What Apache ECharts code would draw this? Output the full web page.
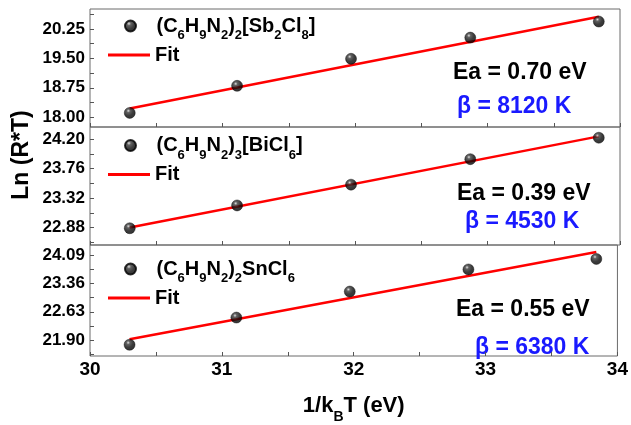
<!DOCTYPE html>
<html>
<head>
<meta charset="utf-8">
<script src="https://cdn.jsdelivr.net/npm/echarts@6/dist/echarts.min.js"></script>
<style>html,body{margin:0;padding:0;background:#fff}#c{width:631px;height:425px}</style>
</head>
<body>
<div id="c"></div>
<script>
// ---- data ----
const xVals = [30.30, 31.11, 31.97, 32.87, 33.84];
const sbVals = [18.11, 18.80, 19.49, 20.03, 20.44];
const biVals = [22.87, 23.21, 23.52, 23.90, 24.22];
const snVals = [21.78, 22.48, 23.15, 23.72, 23.99];
const fitX = [30.30, 33.84];
const sbFit = [18.22, 20.56];
const biFit = [22.88, 24.24];
const snFit = [21.92, 24.17];
const sbTicks = [18.00, 18.75, 19.50, 20.25];
const biTicks = [22.88, 23.32, 23.76, 24.20];
const snTicks = [21.90, 22.63, 23.36, 24.09];
const xTicks = [30, 31, 32, 33, 34];
const names = ['(C{s|6}H{s|9}N{s|2}){s|2}[Sb{s|2}Cl{s|8}]', '(C{s|6}H{s|9}N{s|2}){s|3}[BiCl{s|6}]', '(C{s|6}H{s|9}N{s|2}){s|2}SnCl{s|6}'];
const eaTexts = ['Ea = 0.70 eV', 'Ea = 0.39 eV', 'Ea = 0.55 eV'];
const betaTexts = ['\u03b2 = 8120 K', '\u03b2 = 4530 K', '\u03b2 = 6380 K'];

const FONT = 'Arial, "Liberation Sans", sans-serif';
const ranges = [[17.75, 20.76], [22.62, 24.38], [21.49, 24.35]];
const tickSets = [sbTicks, biTicks, snTicks];
const vals = [sbVals, biVals, snVals];
const fits = [sbFit, biFit, snFit];
const tops = [9, 127, 245];
const H = 118;

function minorSet(t, r) {
  const step = t[1] - t[0];
  const out = t.slice();
  for (let i = -1; i < t.length; i++) {
    const m = t[0] + (i + 0.5) * step;
    if (m > r[0] && m < r[1]) out.push(+m.toFixed(4));
  }
  return out;
}

const ball = {
  type: 'radial', x: 0.38, y: 0.32, r: 0.7,
  colorStops: [{offset: 0, color: '#d8d8d8'}, {offset: 0.22, color: '#3a3a3a'}, {offset: 0.6, color: '#0a0a0a'}, {offset: 1, color: '#000'}]
};

const grids = [], xAxes = [], yAxes = [], series = [], legends = [], graphics = [];
const legTops = [[26, 55], [145.5, 174.5], [269, 298]];
const eaPos = [[453, 73], [457, 194], [456, 310]];
const betaPos = [[457, 107], [465, 222], [475, 348]];

for (let i = 0; i < 3; i++) {
  grids.push({left: 90, right: 11, top: tops[i], height: H, show: true, borderColor: '#6a6a6a', borderWidth: 1, backgroundColor: 'transparent'});
  xAxes.push({
    type: 'value', gridIndex: i, min: 30, max: 34, interval: 1,
    axisLine: {show: false},
    axisTick: {show: true, inside: true, length: 4, lineStyle: {color: '#555'}},
    minorTick: {show: true, splitNumber: 2, length: 4, lineStyle: {color: '#555'}},
    splitLine: {show: false},
    axisLabel: {show: i === 2, margin: 4, fontFamily: FONT, fontWeight: 'bold', fontSize: 19, color: '#000',
      customValues: xTicks},
    name: i === 2 ? '1/k{s|B}T (eV)' : '',
    nameLocation: 'middle', nameGap: 39,
    nameTextStyle: {fontFamily: FONT, fontWeight: 'bold', fontSize: 22, color: '#000',
      rich: {s: {fontFamily: FONT, fontWeight: 'bold', fontSize: 14, color: '#000', verticalAlign: 'bottom', padding: [0, 0, -7, 0]}}}
  });
  yAxes.push({
    type: 'value', gridIndex: i, min: ranges[i][0], max: ranges[i][1],
    axisLine: {show: false},
    splitLine: {show: false},
    axisTick: {show: true, inside: true, length: 4, lineStyle: {color: '#555'}, customValues: minorSet(tickSets[i], ranges[i])},
    axisLabel: {margin: 5, fontFamily: FONT, fontWeight: 'bold', fontSize: 17, color: '#000',
      customValues: tickSets[i], formatter: v => (+v).toFixed(2)}
  });
  series.push({
    name: 'S' + i, type: 'scatter', xAxisIndex: i, yAxisIndex: i,
    symbol: 'circle', symbolSize: 11,
    itemStyle: {color: ball, borderColor: '#000', borderWidth: 0.5},
    data: xVals.map((x, k) => [x, vals[i][k]]), z: 3
  });
  series.push({
    name: 'Fit' + i, type: 'line', xAxisIndex: i, yAxisIndex: i,
    symbol: 'none', lineStyle: {color: '#ff0000', width: 2.5}, itemStyle: {color: '#ff0000'},
    data: fitX.map((x, k) => [x, fits[i][k]]), z: 2
  });
  const legText = {fontFamily: FONT, fontWeight: 'bold', fontSize: 20, color: '#000', lineHeight: 24,
    rich: {s: {fontFamily: FONT, fontWeight: 'bold', fontSize: 13, color: '#000', lineHeight: 24, verticalAlign: 'bottom', padding: [0, 0, -4, 0]}}};
  legends.push({
    data: [{name: 'S' + i, icon: 'circle', itemStyle: {color: ball}}], left: 124, top: legTops[i][0] - 12, padding: 0,
    itemWidth: 42, itemHeight: 11, selectedMode: false, textStyle: legText,
    formatter: () => names[i]
  });
  legends.push({
    data: [{name: 'Fit' + i, icon: 'rect'}], left: 108, top: legTops[i][1] - 12, padding: 0,
    itemWidth: 42, itemHeight: 3, selectedMode: false, textStyle: legText,
    itemStyle: {color: '#ff0000'},
    formatter: () => 'Fit'
  });
  graphics.push({type: 'text', x: eaPos[i][0], y: eaPos[i][1], style: {text: eaTexts[i], font: 'bold 23px ' + FONT, fill: '#000', verticalAlign: 'middle', align: 'left'}});
  graphics.push({type: 'text', x: betaPos[i][0], y: betaPos[i][1], style: {text: betaTexts[i], font: 'bold 23px ' + FONT, fill: '#1a1aff', verticalAlign: 'middle', align: 'left'}});
}
graphics.push({type: 'text', x: 22, y: 155, rotation: Math.PI / 2, style: {text: 'Ln (R*T)', font: 'bold 23px ' + FONT, fill: '#000', align: 'center', verticalAlign: 'middle'}});

const chart = echarts.init(document.getElementById('c'), null, {renderer: 'canvas'});
chart.setOption({
  animation: false,
  backgroundColor: '#fff',
  grid: grids, xAxis: xAxes, yAxis: yAxes, series: series, legend: legends, graphic: graphics
});
</script>
</body>
</html>
